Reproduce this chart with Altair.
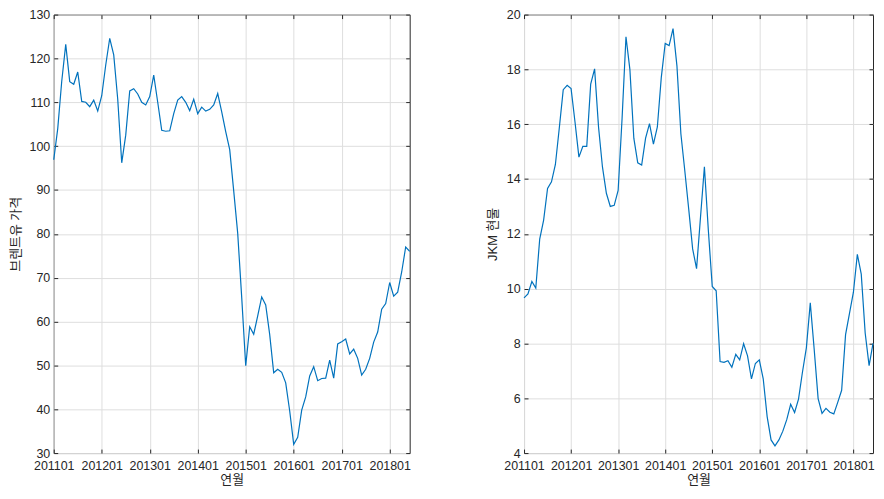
import altair as alt
import pandas as pd

# Monthly categories 201101 .. 201806
months = [f"{y}{m:02d}" for y in range(2011, 2019) for m in range(1, 13)][:90]
tick_labels = ["201101", "201201", "201301", "201401", "201501", "201601", "201701", "201801"]

brent = [96.9, 104.0, 114.8, 123.2, 114.7, 114.1, 116.9, 110.2, 110.0, 109.0, 110.5, 108.0,
         111.5, 118.5, 124.6, 120.8, 110.7, 96.2, 102.5, 112.6, 113.1, 111.9, 110.0, 109.4,
         111.3, 116.2, 110.0, 103.6, 103.4, 103.5, 107.4, 110.5, 111.3, 110.0, 108.1, 110.7,
         107.4, 108.9, 108.0, 108.4, 109.4, 112.0, 107.8, 103.3, 99.2, 89.8, 80.1, 65.5,
         49.9, 58.8, 57.1, 61.3, 65.6, 63.8, 57.0, 48.3, 49.1, 48.4, 46.0, 39.6,
         32.0, 33.6, 39.8, 42.8, 47.6, 49.7, 46.5, 47.0, 47.1, 51.2, 47.1, 54.9,
         55.4, 56.0, 52.6, 53.7, 51.6, 47.8, 49.1, 51.6, 55.3, 57.6, 62.8, 64.1,
         68.9, 65.8, 66.7, 71.3, 77.0, 76.0]

jkm = [9.66, 9.81, 10.26, 10.02, 11.81, 12.5, 13.66, 13.9, 14.53, 15.87, 17.26, 17.42,
       17.3, 16.08, 14.80, 15.19, 15.19, 17.46, 18.02, 15.9, 14.44, 13.48, 13.0, 13.04,
       13.58, 16.2, 19.19, 17.99, 15.49, 14.59, 14.51, 15.49, 16.02, 15.27, 15.9, 17.7,
       18.95, 18.87, 19.49, 18.12, 15.65, 14.3, 12.9, 11.45, 10.73, 12.6, 14.45, 12.14,
       10.08, 9.92, 7.34, 7.31, 7.37, 7.13, 7.60, 7.40, 7.99, 7.55, 6.71, 7.27,
       7.40, 6.71, 5.33, 4.48, 4.26, 4.48, 4.80, 5.22, 5.78, 5.48, 5.97, 6.95,
       7.84, 9.48, 7.78, 5.99, 5.45, 5.63, 5.49, 5.43, 5.85, 6.29, 8.32, 9.10,
       9.87, 11.25, 10.53, 8.38, 7.19, 8.0]

FONT = "Liberation Sans, Noto Sans CJK KR, sans-serif"
LINE = "#0072BD"
INK = "#262626"
H = 441


def panel(values, ytitle, ymin, ymax, ystep, title_pad, W):
    df = pd.DataFrame({"연월": months, "v": values})
    yticks = list(range(ymin, ymax + 1, ystep))
    xs = alt.Scale(type="point", padding=0, domain=months)
    ys = alt.Scale(domain=[ymin, ymax], nice=False, zero=False)
    base = alt.Chart(df)

    main = base.mark_line(color=LINE, strokeWidth=1.2).encode(
        x=alt.X("연월:O", scale=xs,
                axis=alt.Axis(values=tick_labels, title="연월", labelAngle=0, grid=True,
                              ticks=False, tickSize=0, domain=False, labelPadding=6.5,
                              titlePadding=1.5)),
        y=alt.Y("v:Q", scale=ys,
                axis=alt.Axis(values=yticks, title=ytitle, grid=True, ticks=False,
                              tickSize=0, domain=False, labelPadding=4,
                              titlePadding=title_pad)),
    )
    # inward ticks on bottom / left edges
    t1 = base.mark_line(opacity=0).encode(
        x=alt.X("연월:O", scale=xs,
                axis=alt.Axis(orient="top", offset=-H, values=tick_labels, labels=False,
                              title="", grid=False, domain=False, ticks=True, tickSize=4)),
        y=alt.Y("v:Q", scale=ys,
                axis=alt.Axis(orient="right", offset=-W, values=yticks, labels=False,
                              title="", grid=False, domain=False, ticks=True, tickSize=4)),
    )
    # inward ticks on top / right edges
    t2 = base.mark_line(opacity=0).encode(
        x=alt.X("연월:O", scale=xs,
                axis=alt.Axis(orient="bottom", offset=-H, values=tick_labels, labels=False,
                              title="", grid=False, domain=False, ticks=True, tickSize=4)),
        y=alt.Y("v:Q", scale=ys,
                axis=alt.Axis(orient="left", offset=-W, values=yticks, labels=False,
                              title="", grid=False, domain=False, ticks=True, tickSize=4)),
    )
    return alt.layer(main, t1, t2).resolve_axis(x="independent", y="independent").properties(
        width=W, height=H)


left = panel(brent, "브렌트유 가격", 30, 130, 10, 7, 358)
right = panel(jkm, "JKM 현물", 4, 20, 2, 7, 351)

chart = alt.hconcat(left, right, spacing=73).properties(
    padding={"left": 0, "top": -1.75, "right": 0, "bottom": -2}
).configure_axis(
    labelFont=FONT, labelFontSize=12.5, labelColor=INK,
    titleFont=FONT, titleFontSize=13, titleFontWeight="normal", titleColor=INK,
    gridColor="#dedede", gridWidth=1, tickColor=INK, tickWidth=1,
).configure_view(stroke=INK, strokeWidth=1)

chart.save("out.html", embed_options={"renderer": "svg", "actions": False})
